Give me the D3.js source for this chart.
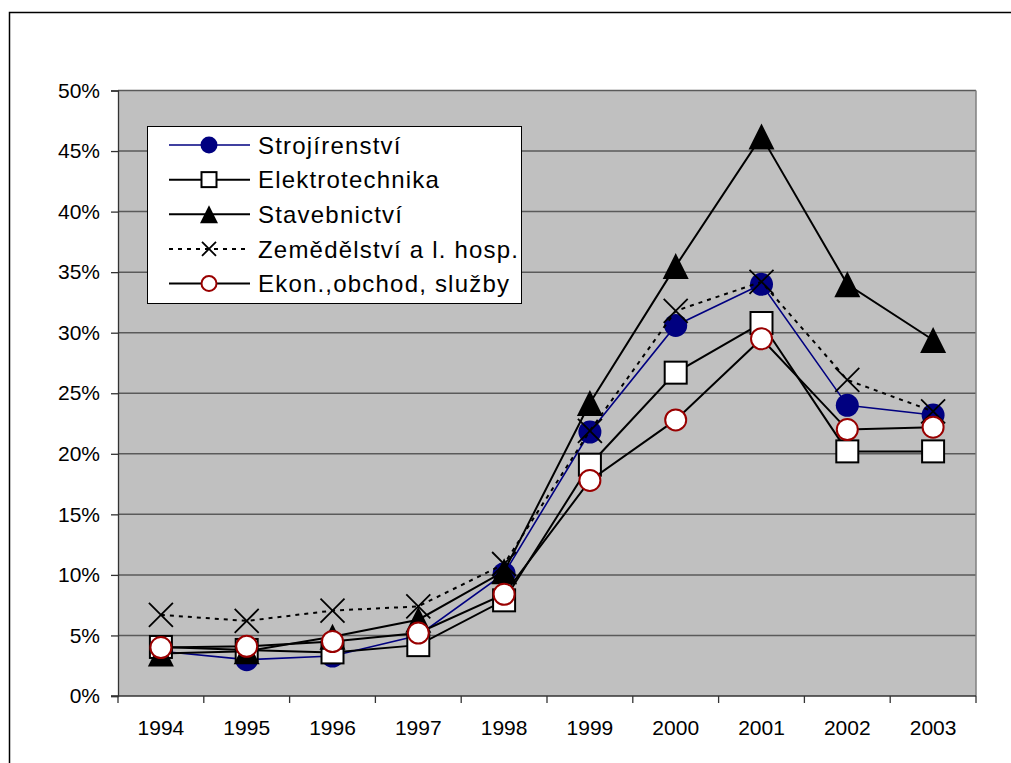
<!DOCTYPE html>
<html>
<head>
<meta charset="utf-8">
<script src="https://cdn.jsdelivr.net/npm/d3@7"></script>
<style>
  body { margin: 0; background: #fff; }
  text { font-family: "Liberation Sans", Arial, sans-serif; fill: #000; }
</style>
</head>
<body>
<div id="chart"></div>
<script>
// data (share of graduates, %)
var years = ["1994", "1995", "1996", "1997", "1998", "1999", "2000", "2001", "2002", "2003"];
var seriesNames = ["Strojírenství", "Elektrotechnika", "Stavebnictví", "Zemědělství a l. hosp.", "Ekon.,obchod, služby"];
var strojirenstvi = [3.7, 3.0, 3.3, 5.0, 10.1, 21.8, 30.6, 34.0, 24.0, 23.2];
var elektrotechnika = [4.05, 3.8, 3.6, 4.2, 7.9, 19.1, 26.7, 30.8, 20.2, 20.2];
var stavebnictvi = [3.5, 3.7, 4.9, 6.3, 10.3, 24.2, 35.5, 46.2, 34.0, 29.4];
var zemedelstvi = [6.7, 6.2, 7.05, 7.4, 10.9, 21.9, 31.8, 34.2, 26.1, 23.5];
var ekonomika = [4.0, 4.1, 4.5, 5.2, 8.4, 17.8, 22.8, 29.5, 22.0, 22.2];
var yTicks = [0, 5, 10, 15, 20, 25, 30, 35, 40, 45, 50];

var svgWidth = 1011;
var svgHeight = 763;

var plot = { left: 118, right: 976, top: 90.5, bottom: 696 };

var svg = d3.select("#chart")
  .append("svg")
  .attr("width", svgWidth)
  .attr("height", svgHeight);

// outer chart frame (runs off the right and bottom edge)
svg.append("path")
  .attr("d", "M9.5,770 V12.5 H1020")
  .attr("fill", "none")
  .attr("stroke", "#000")
  .attr("stroke-width", 1.5);

var x = d3.scaleBand()
  .domain(years)
  .range([plot.left, plot.right])
  .paddingInner(0)
  .paddingOuter(0);

var y = d3.scaleLinear()
  .domain([0, 50])
  .range([plot.bottom, plot.top]);

var cx = function(yr) { return x(yr) + x.bandwidth() / 2; };

// plot area
svg.append("rect")
  .attr("x", plot.left)
  .attr("y", plot.top)
  .attr("width", plot.right - plot.left)
  .attr("height", plot.bottom - plot.top)
  .attr("fill", "#c0c0c0");

// gridlines
svg.append("g")
  .selectAll("line")
  .data(yTicks.filter(function(d) { return d > 0; }))
  .enter()
  .append("line")
  .attr("x1", plot.left)
  .attr("x2", plot.right)
  .attr("y1", function(d) { return y(d); })
  .attr("y2", function(d) { return y(d); })
  .attr("stroke", "#5a5a5a")
  .attr("stroke-width", 1.5);

// right border of plot area
svg.append("line")
  .attr("x1", plot.right).attr("x2", plot.right)
  .attr("y1", plot.top).attr("y2", plot.bottom)
  .attr("stroke", "#808080")
  .attr("stroke-width", 1.5);

// y axis
var leftAxis = d3.axisLeft(y)
  .tickValues(yTicks)
  .tickSize(7)
  .tickPadding(11)
  .tickFormat(function(d) { return d + "%"; });

var yAxis = svg.append("g")
  .attr("transform", "translate(" + plot.left + ",0)")
  .call(leftAxis);
yAxis.selectAll("text")
  .style("font-size", "21px")
  .style("font-family", "Liberation Sans, Arial, sans-serif");
yAxis.selectAll("line").attr("stroke", "#333").attr("stroke-width", 1.3);
yAxis.select(".domain").attr("stroke", "#333").attr("stroke-width", 1.3);

// x axis: labels centred, ticks between categories
var bottomAxis = d3.axisBottom(x)
  .tickSize(0)
  .tickPadding(24);

var xAxis = svg.append("g")
  .attr("transform", "translate(0," + plot.bottom + ")")
  .call(bottomAxis);
xAxis.select(".domain").remove();
xAxis.selectAll("text")
  .style("font-size", "21px")
  .style("font-family", "Liberation Sans, Arial, sans-serif");

svg.append("line")
  .attr("x1", plot.left - 7).attr("x2", plot.right)
  .attr("y1", plot.bottom).attr("y2", plot.bottom)
  .attr("stroke", "#333")
  .attr("stroke-width", 1.5);

svg.append("g")
  .selectAll("line")
  .data(years.concat(["end"]))
  .enter()
  .append("line")
  .attr("x1", function(d) { return d === "end" ? plot.right : x(d); })
  .attr("x2", function(d) { return d === "end" ? plot.right : x(d); })
  .attr("y1", plot.bottom)
  .attr("y2", plot.bottom + 7)
  .attr("stroke", "#333")
  .attr("stroke-width", 1.3);

// marker drawing
function drawMarker(g, type, s) {
  if (type === "circle") {
    g.append("circle").attr("r", s / 2)
      .attr("fill", "#000080");
  } else if (type === "square") {
    g.append("rect")
      .attr("x", -s / 2 + 1).attr("y", -s / 2 + 1)
      .attr("width", s - 2).attr("height", s - 2)
      .attr("fill", "#fff").attr("stroke", "#000").attr("stroke-width", 2);
  } else if (type === "triangle") {
    g.append("path")
      .attr("d", "M0," + (-s / 2) + " L" + (s / 2) + "," + (s / 2) + " L" + (-s / 2) + "," + (s / 2) + " Z")
      .attr("fill", "#000");
  } else if (type === "cross") {
    g.append("path")
      .attr("d", "M" + (-s / 2) + "," + (-s / 2) + " L" + (s / 2) + "," + (s / 2) +
                 " M" + (s / 2) + "," + (-s / 2) + " L" + (-s / 2) + "," + (s / 2))
      .attr("stroke", "#000").attr("stroke-width", 1.8).attr("fill", "none");
  } else if (type === "ring") {
    g.append("circle").attr("r", s / 2 - 1)
      .attr("fill", "#fff").attr("stroke", "#990000").attr("stroke-width", 2);
  }
}

var series = [
  { name: seriesNames[0], values: strojirenstvi, color: "#000080", width: 1.6, dash: null, marker: "circle", size: 23, legendSize: 17 },
  { name: seriesNames[1], values: elektrotechnika, color: "#000", width: 2, dash: null, marker: "square", size: 24, legendSize: 17 },
  { name: seriesNames[2], values: stavebnictvi, color: "#000", width: 2, dash: null, marker: "triangle", size: 26, legendSize: 18 },
  { name: seriesNames[3], values: zemedelstvi, color: "#000", width: 2, dash: "4,5", marker: "cross", size: 24, legendSize: 14 },
  { name: seriesNames[4], values: ekonomika, color: "#000", width: 2, dash: null, marker: "ring", size: 23, legendSize: 17 }
];

var line = d3.line()
  .x(function(d, i) { return cx(years[i]); })
  .y(function(d) { return y(d); });

series.forEach(function(s) {
  var g = svg.append("g");
  g.append("path")
    .attr("d", line(s.values))
    .attr("fill", "none")
    .attr("stroke", s.color)
    .attr("stroke-width", s.width)
    .attr("stroke-dasharray", s.dash);
  s.values.forEach(function(v, i) {
    var m = g.append("g")
      .attr("transform", "translate(" + cx(years[i]) + "," + y(v) + ")");
    drawMarker(m, s.marker, s.size);
  });
});

// legend
var legend = svg.append("g");
legend.append("rect")
  .attr("x", 147.5).attr("y", 126.5)
  .attr("width", 374).attr("height", 177)
  .attr("fill", "#fff").attr("stroke", "#000").attr("stroke-width", 1);

var legendY = d3.scalePoint()
  .domain(seriesNames)
  .range([145, 283.5]);

series.forEach(function(s) {
  var ly = legendY(s.name);
  legend.append("line")
    .attr("x1", 169).attr("x2", 250)
    .attr("y1", ly).attr("y2", ly)
    .attr("stroke", s.color)
    .attr("stroke-width", s.width)
    .attr("stroke-dasharray", s.dash);
  var m = legend.append("g").attr("transform", "translate(209," + ly + ")");
  drawMarker(m, s.marker, s.legendSize);
  legend.append("text")
    .attr("x", 258)
    .attr("y", ly)
    .attr("dy", "0.36em")
    .style("font-size", "24px")
    .style("letter-spacing", "1.2px")
    .text(s.name);
});
</script>
</body>
</html>
